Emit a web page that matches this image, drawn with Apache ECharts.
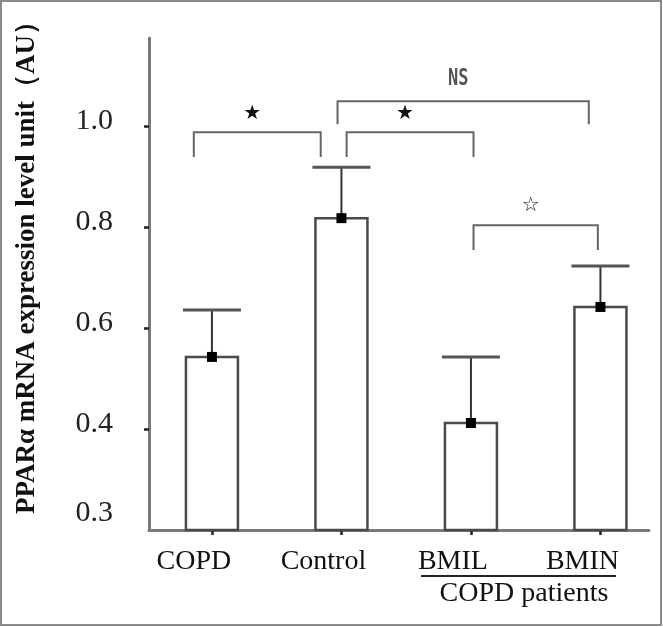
<!DOCTYPE html>
<html>
<head>
<meta charset="utf-8">
<script src="https://cdn.jsdelivr.net/npm/echarts@6/dist/echarts.min.js"></script>
<style>html,body{margin:0;padding:0;background:#fff}#c{width:663px;height:627px}</style>
</head>
<body>
<div id="c"></div>
<script>
const categories = ['COPD', 'Control', 'BMIL', 'BMIN'];
const means = [0.543, 0.818, 0.412, 0.642];
const upperErr = [0.636, 0.919, 0.543, 0.723];
const yTickValues = [0.4, 0.6, 0.8, 1.0];
const yLabelValues = [0.224, 0.4, 0.6, 0.8, 1.0];
const yLabels = ['0.3', '0.4', '0.6', '0.8', '1.0'];
const bracketFrom = [-0.14, 1.04, 0.97, 2.02];
const bracketTo = [0.84, 2.02, 2.91, 2.98];
const bracketTop = [0.988, 0.988, 1.0495, 0.804];
const bracketLeg = [0.939, 0.939, 1.004, 0.755];
const bracketText = ['★', '★', 'NS', '☆'];
const yTitle = 'PPARα mRNA expression level unit（AU）';
const groupLabel = 'COPD patients';

const chart = echarts.init(document.getElementById('c'), null, {renderer: 'canvas'});
const serif = 'Liberation Serif';
const labelLift = 0.01; // tick labels sit slightly above their ticks in the reference
const labelPos = yLabelValues.map(v => +(v + labelLift).toFixed(4));

const option = {
  animation: false,
  backgroundColor: '#fff',
  grid: {left: 149, right: 14, top: 38, bottom: 97},
  xAxis: {
    type: 'value', min: -0.486, max: 3.375,
    splitLine: {show: false},
    axisLine: {show: true, onZero: false, lineStyle: {color: '#7a7a7a', width: 3}},
    axisTick: {show: true, customValues: [0, 1, 2, 3], length: 5, lineStyle: {color: '#222', width: 2.5}},
    axisLabel: {
      customValues: [0, 1, 2, 3],
      formatter: v => categories[Math.round(v)],
      fontFamily: serif, fontSize: 28, color: '#111', margin: 18,
      padding: [0, 36, 0, 0]
    }
  },
  yAxis: {
    type: 'value', min: 0.2, max: 1.175,
    splitLine: {show: false},
    axisLine: {show: true, onZero: false, lineStyle: {color: '#7a7a7a', width: 3}},
    axisTick: {show: true, customValues: yTickValues, length: 5, lineStyle: {color: '#222', width: 2.5}},
    axisLabel: {
      customValues: labelPos,
      formatter: v => {
        let best = 0;
        labelPos.forEach((t, i) => { if (Math.abs(t - v) < Math.abs(labelPos[best] - v)) best = i; });
        return yLabels[best];
      },
      fontFamily: serif, fontSize: 30, color: '#222', margin: 36
    }
  },
  graphic: [
    {type: 'rect', shape: {x: 1, y: 1, width: 660, height: 624}, style: {fill: 'none', stroke: '#8a8a8a', lineWidth: 2}, silent: true},
    {type: 'text', x: 27, y: 261, rotation: Math.PI / 2,
      style: {text: yTitle, fontFamily: serif, fontWeight: 'bold', fontSize: 27, fill: '#111', align: 'center', verticalAlign: 'middle'}},
    {type: 'line', shape: {x1: 421, y1: 576, x2: 616, y2: 576}, style: {stroke: '#222', lineWidth: 2}},
    {type: 'text', x: 524, y: 594,
      style: {text: groupLabel, fontFamily: serif, fontSize: 28, fill: '#111', align: 'center', verticalAlign: 'middle'}}
  ],
  series: [
    {
      type: 'custom',
      data: categories.map((c, i) => [i, means[i], upperErr[i]]),
      renderItem: (params, api) => {
        const x = api.value(0);
        const top = api.coord([x, api.value(1)]);
        const base = api.coord([x, 0.2]);
        const cap = api.coord([x, api.value(2)]);
        return {
          type: 'group',
          children: [
            {type: 'rect', shape: {x: top[0] - 26, y: top[1], width: 52, height: base[1] - top[1]},
              style: {fill: '#fff', stroke: '#4a4a4a', lineWidth: 2.5}},
            {type: 'line', shape: {x1: top[0], y1: top[1], x2: cap[0], y2: cap[1]},
              style: {stroke: '#333', lineWidth: 2}},
            {type: 'line', shape: {x1: cap[0] - 29, y1: cap[1], x2: cap[0] + 29, y2: cap[1]},
              style: {stroke: '#555', lineWidth: 3}},
            {type: 'rect', shape: {x: top[0] - 5, y: top[1] - 5, width: 10, height: 10},
              style: {fill: '#000'}}
          ]
        };
      }
    },
    {
      type: 'custom',
      data: bracketFrom.map((f, i) => [f, bracketTo[i], bracketTop[i], bracketLeg[i], i]),
      renderItem: (params, api) => {
        const a = api.coord([api.value(0), api.value(2)]);
        const b = api.coord([api.value(1), api.value(2)]);
        const leg = api.coord([api.value(0), api.value(3)]);
        const txt = bracketText[api.value(4)];
        const isNS = txt === 'NS';
        return {
          type: 'group',
          children: [
            {type: 'polyline', shape: {points: [[a[0], leg[1]], [a[0], a[1]], [b[0], b[1]], [b[0], leg[1]]]},
              style: {stroke: '#666', lineWidth: 2, fill: 'none'}},
            {type: 'text', x: (a[0] + b[0]) / 2 - 5, y: a[1] - (isNS ? 23 : 19),
              scaleY: isNS ? 1.4 : 1,
              style: {text: txt, align: 'center', verticalAlign: 'middle',
                fontFamily: isNS ? 'DejaVu Sans Mono' : 'DejaVu Sans',
                fontWeight: isNS ? 'bold' : 'normal',
                fontSize: isNS ? 17 : 20,
                fill: isNS ? '#555' : '#111'}}
          ]
        };
      }
    }
  ]
};
chart.setOption(option);
</script>
</body>
</html>
